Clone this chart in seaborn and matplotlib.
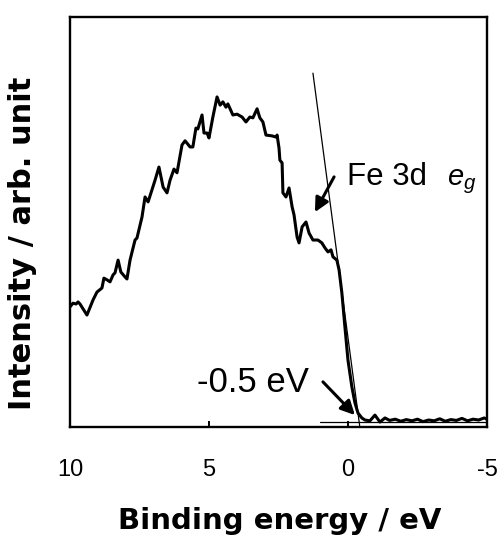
import numpy as np
import pandas as pd
import matplotlib
matplotlib.use('Agg')
import matplotlib.pyplot as plt
import seaborn as sns

# ── data ──────────────────────────────────────────────────────────────────────
energy = [10.00, 9.89, 9.78, 9.71, 9.64, 9.39, 9.17, 9.03, 8.85, 8.78, 8.67, 8.56,
          8.45, 8.38, 8.27, 8.17, 8.02, 7.95, 7.84, 7.66, 7.59, 7.41, 7.30, 7.19,
          6.94, 6.80, 6.65, 6.51, 6.40, 6.26, 6.15, 5.97, 5.86, 5.68, 5.58, 5.47,
          5.40, 5.25, 5.18, 5.07, 5.00, 4.86, 4.71, 4.60, 4.50, 4.39, 4.32, 4.14,
          3.99, 3.81, 3.67, 3.53, 3.42, 3.27, 3.17, 3.06, 2.95, 2.73, 2.59, 2.55,
          2.48, 2.45, 2.37, 2.34, 2.23, 2.12, 2.01, 1.94, 1.83, 1.76, 1.65, 1.51,
          1.40, 1.26, 1.08, 0.94, 0.83, 0.72, 0.61, 0.54, 0.40, 0.32, 0.22, 0.11,
          0.00, -0.14, -0.25, -0.36, -0.50, -0.61, -0.79, -0.97, -1.15, -1.33,
          -1.50, -1.70, -1.90, -2.10, -2.30, -2.50, -2.70, -2.90, -3.10, -3.30,
          -3.50, -3.70, -3.90, -4.10, -4.30, -4.50, -4.70, -4.90, -5.00]
intensity = [29.3, 30.2, 30.0, 30.5, 30.0, 27.3, 31.0, 32.9, 33.9, 36.3, 35.9, 35.4,
             37.1, 37.6, 40.7, 37.8, 36.6, 36.1, 40.7, 45.6, 46.1, 51.2, 56.1, 54.9,
             60.2, 63.4, 58.5, 57.1, 60.2, 62.9, 62.0, 68.8, 69.8, 68.3, 68.3, 72.9,
             72.7, 76.1, 71.7, 71.7, 70.5, 75.6, 80.5, 78.5, 79.3, 78.0, 78.8, 76.1,
             76.3, 75.6, 74.4, 75.6, 75.4, 77.6, 75.4, 74.4, 71.2, 71.0, 70.7, 71.2,
             68.0, 65.1, 64.4, 57.1, 56.1, 58.3, 53.7, 51.7, 46.3, 44.9, 48.8, 50.0,
             47.3, 45.6, 45.6, 44.9, 43.7, 42.7, 43.2, 41.5, 40.7, 38.3, 32.7, 24.4,
             16.3, 9.8, 5.9, 3.4, 2.2, 1.7, 1.5, 2.9, 1.2, 2.2,
             1.6, 1.9, 1.4, 1.8, 1.5, 1.9, 1.3, 1.7, 1.5, 2.0,
             1.4, 1.8, 1.6, 2.1, 1.5, 1.9, 1.7, 2.2, 1.9]

# leading-edge fit line and background level
tangent_x = [1.26, -0.43]
tangent_y = [86.3, -0.2]
base_x = [1.0, -5.0]
base_y = [1.2, 1.2]

xticks = [10, 5, 0, -5]
xticklabels = ['10', '5', '0', '-5']

df = pd.DataFrame({'energy': energy, 'intensity': intensity})

# ── plot ─────────────────────────────────────────────────────────────────────
sns.set_theme(style='white')
plt.rcParams['font.family'] = ['Liberation Sans', 'DejaVu Sans']
plt.rcParams['text.color'] = 'black'
plt.rcParams['axes.labelcolor'] = 'black'
plt.rcParams['mathtext.fontset'] = 'custom'
plt.rcParams['mathtext.rm'] = 'Liberation Sans'
plt.rcParams['mathtext.it'] = 'Liberation Sans:italic'

fig = plt.figure(figsize=(5.01, 5.36), dpi=100)
ax = fig.add_axes([0.1397, 0.2034, 0.8323, 0.7649])

sns.lineplot(data=df, x='energy', y='intensity', sort=False, color='black',
             linewidth=2.2, ax=ax)
ax.plot(tangent_x, tangent_y, color='black', linewidth=0.9)
ax.plot(base_x, base_y, color='black', linewidth=0.9)

ax.set_xlim(10, -5)
ax.set_ylim(0, 100)
ax.set_xticks(xticks)
ax.set_xticklabels(xticklabels, fontsize=17)
ax.set_yticks([])
ax.tick_params(axis='x', direction='in', length=4.5, width=1.4, pad=23,
               bottom=True, colors='black')

for s in ax.spines.values():
    s.set_visible(True)
    s.set_color('black')
    s.set_linewidth(1.7)

ax.set_xlabel('Binding energy / eV', fontsize=21, fontweight='bold',
              family='DejaVu Sans', color='black')
ax.set_ylabel('Intensity / arb. unit', fontsize=22, fontweight='bold',
              family='DejaVu Sans', color='black')
ax.xaxis.set_label_coords(0.504, -0.195)
ax.yaxis.set_label_coords(-0.079, 0.449)

# annotations
arrow = dict(arrowstyle='-|>,head_length=0.7,head_width=0.35', color='black',
             lw=2.2, shrinkA=0, shrinkB=0)
ax.text(0.04, 59, 'Fe 3d', fontsize=22.5, ha='left', va='baseline', color='black')
ax.text(-3.56, 59, r'$e_g$', fontsize=21, ha='left', va='baseline', color='black')
ax.annotate('', xy=(1.19, 52.4), xytext=(0.50, 61.0), arrowprops=arrow)
ax.text(5.43, 8.5, '-0.5 eV', fontsize=25, ha='left', va='baseline',
        color='black')
ax.annotate('', xy=(-0.25, 2.9), xytext=(0.90, 11.0), arrowprops=arrow)

plt.savefig('out.png', dpi=100)
